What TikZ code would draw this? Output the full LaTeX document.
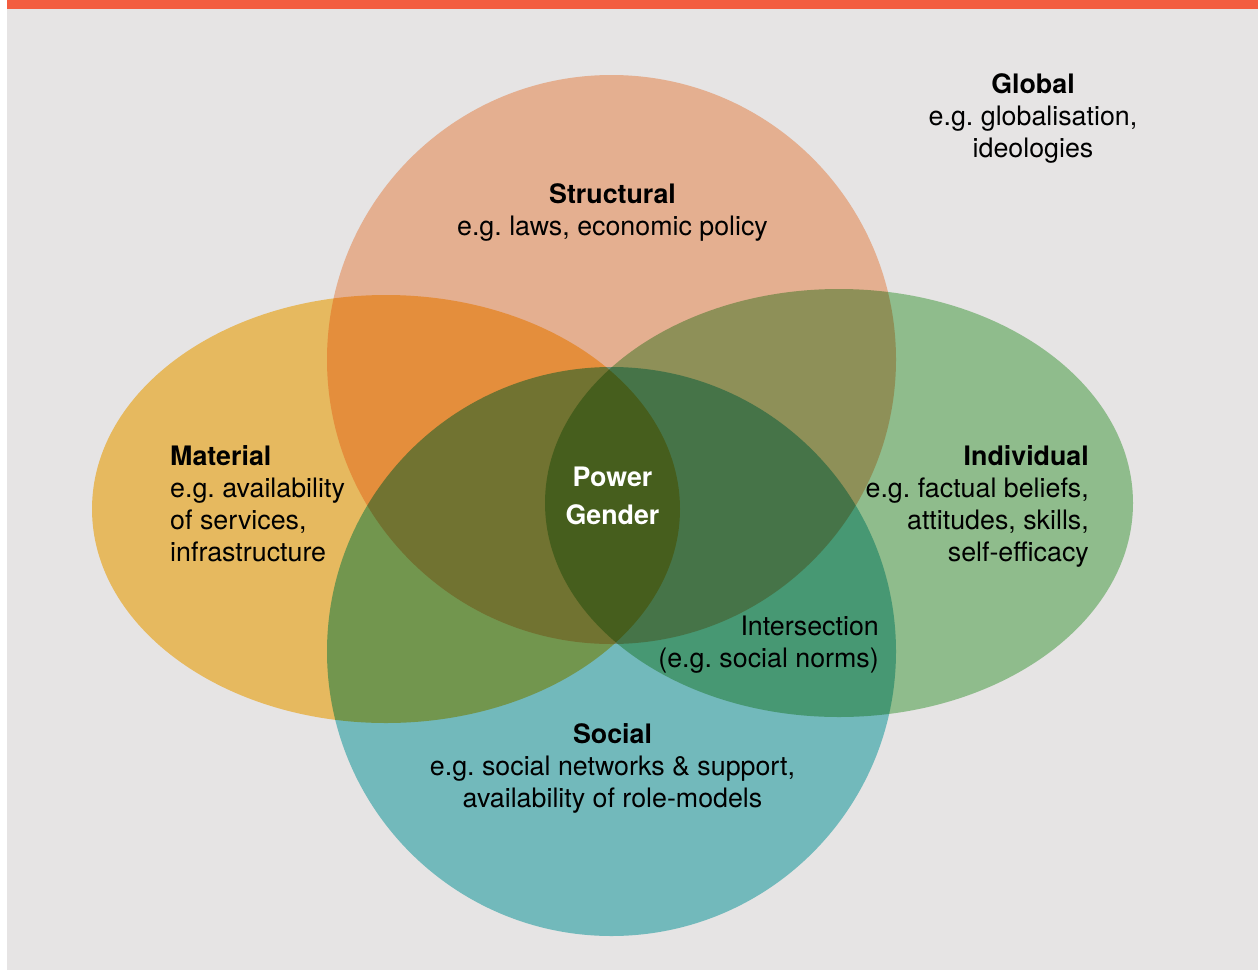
\documentclass[tikz,border=0pt]{standalone}
\usepackage{fontspec}
\setmainfont{TeX Gyre Heros}
\frenchspacing
\definecolor{bggray}{RGB}{230,228,228}
\definecolor{topbar}{RGB}{243,93,64}
\definecolor{cstruct}{RGB}{253,196,162}
\definecolor{cmat}{RGB}{255,207,107}
\definecolor{cind}{RGB}{159,211,157}
\definecolor{csoc}{RGB}{127,207,210}
\tikzset{
  lbl/.style={inner sep=0pt, text=black, font=\fontsize{26.8}{31.7}\selectfont\frenchspacing},
  pw/.style={inner sep=0pt, text=white, font=\fontsize{26.8}{38.5}\selectfont\bfseries},
}
\begin{document}
\begin{tikzpicture}[x=1pt,y=-1pt]
\useasboundingbox (0,0) rectangle (1258,969);
\fill[white] (0,0) rectangle (1258,969);
\begin{scope}[blend group=multiply]
  \fill[bggray] (7,0) rectangle (1258,970);
  \fill[cstruct] (611.5,359.5) circle[radius=284.5];
  \fill[cmat] (386,509) ellipse[x radius=294, y radius=214];
  \fill[cind] (839,503) ellipse[x radius=294, y radius=214];
  \fill[csoc] (611.5,651.5) circle[radius=284.5];
\end{scope}
\fill[topbar] (7,0) rectangle (1258,9);

\node[lbl, anchor=base, align=center] (global) at (1033,157)
  {\textbf{Global}\\e.g. globalisation,\\ideologies};
\node[lbl, anchor=base, align=center] (structural) at (612.5,235)
  {\textbf{Structural}\\e.g. laws, economic policy};
\node[lbl, anchor=base west, align=left] (material) at (170,561)
  {\textbf{Material}\\e.g. availability\\of services,\\infrastructure};
\node[lbl, anchor=base east, align=right] (individual) at (1089,561)
  {\textbf{Individual}\\e.g. factual beliefs,\\attitudes, skills,\\self-efficacy};
\node[pw, anchor=base, align=center] (power) at (612.5,524.5)
  {Power\\Gender};
\node[lbl, anchor=base east, align=right] (intersection) at (879,667)
  {Intersection\\(e.g. social norms)};
\node[lbl, anchor=base, align=center] (social) at (612.5,807)
  {\textbf{Social}\\e.g. social networks \& support,\\availability of role-models};
\end{tikzpicture}
\end{document}
